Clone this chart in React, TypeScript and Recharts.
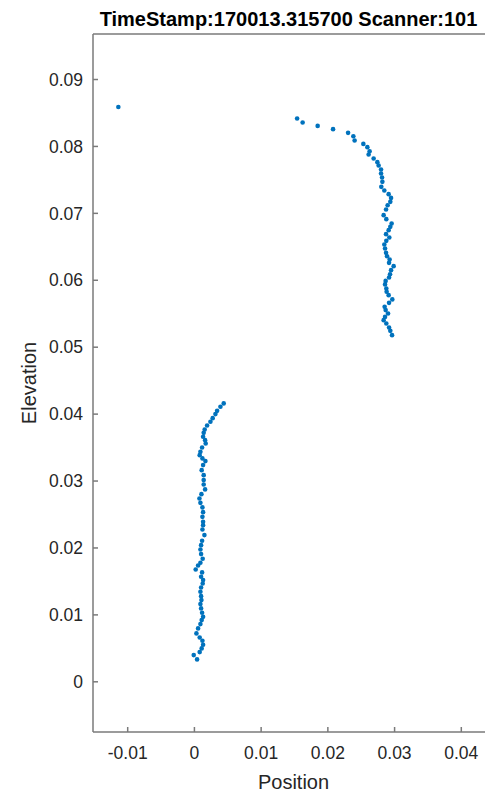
import { ScatterChart, Scatter, XAxis, YAxis } from 'recharts';

// scan points: [position, elevation]
const strayPoints: [number, number][] = [[-0.0114, 0.0859]];

const upperPoints: [number, number][] = [
  [0.01539, 0.08418], [0.01622, 0.08358], [0.01847, 0.08307], [0.02078, 0.08258],
  [0.02303, 0.08203], [0.02382, 0.08153], [0.02401, 0.08089], [0.02532, 0.08038],
  [0.02592, 0.07989], [0.02626, 0.07929], [0.02611, 0.0788], [0.02686, 0.0782],
  [0.02742, 0.07765], [0.02761, 0.07715], [0.02797, 0.07656], [0.02797, 0.07596],
  [0.02812, 0.07536], [0.02817, 0.07471], [0.02801, 0.07396], [0.02846, 0.07342],
  [0.02911, 0.07287], [0.02947, 0.07231], [0.02936, 0.07172], [0.02896, 0.07122],
  [0.02872, 0.07058], [0.02836, 0.06973], [0.02876, 0.06913], [0.02956, 0.06849],
  [0.02936, 0.06798], [0.02911, 0.06749], [0.02872, 0.06689], [0.02921, 0.0664],
  [0.02876, 0.06589], [0.02846, 0.06535], [0.02857, 0.06475], [0.02872, 0.0641],
  [0.02887, 0.0636], [0.02926, 0.06311], [0.02917, 0.0626], [0.02986, 0.06211],
  [0.02947, 0.06151], [0.02932, 0.06091], [0.02917, 0.06042], [0.02866, 0.05991],
  [0.02857, 0.05938], [0.02876, 0.05878], [0.02881, 0.05828], [0.02911, 0.05778],
  [0.02966, 0.05714], [0.02917, 0.05663], [0.02851, 0.05603], [0.02866, 0.05554],
  [0.02902, 0.05504], [0.02857, 0.05453], [0.02836, 0.05404], [0.02876, 0.05355],
  [0.02917, 0.05295], [0.02936, 0.05244], [0.02962, 0.0518],
];

const lowerPoints: [number, number][] = [
  [0.00439, 0.0416], [0.0039, 0.04109], [0.0034, 0.04049], [0.00315, 0.04],
  [0.00274, 0.0394], [0.0024, 0.03885], [0.0019, 0.03831], [0.00154, 0.03771],
  [0.00139, 0.0372], [0.0013, 0.03661], [0.0016, 0.03611], [0.00169, 0.03562],
  [0.00115, 0.03502], [0.0009, 0.03436], [0.00079, 0.03387], [0.0012, 0.03338],
  [0.00165, 0.03298], [0.0013, 0.03238], [0.00109, 0.03163], [0.00139, 0.03088],
  [0.00139, 0.03014], [0.00139, 0.02949], [0.0016, 0.02875], [0.00105, 0.02804],
  [0.00075, 0.0274], [0.0009, 0.02674], [0.0012, 0.02606], [0.0013, 0.02535],
  [0.0012, 0.02465], [0.0013, 0.02391], [0.0013, 0.02341], [0.0012, 0.02277],
  [0.0015, 0.02192], [0.00115, 0.02107], [0.001, 0.02042], [0.0009, 0.01978],
  [0.001, 0.01908], [0.00124, 0.01838], [0.0009, 0.01778], [0.00055, 0.01739],
  [0.00019, 0.01679], [0.00115, 0.01635], [0.001, 0.01569], [0.0013, 0.0152],
  [0.00124, 0.0147], [0.001, 0.0141], [0.0009, 0.01345], [0.001, 0.0128],
  [0.00105, 0.01221], [0.0009, 0.01161], [0.001, 0.01097], [0.00115, 0.01031],
  [0.0013, 0.00971], [0.00109, 0.00922], [0.0009, 0.00862], [0.00055, 0.00798],
  [0.0003, 0.00723], [0.00079, 0.00663], [0.0012, 0.00613], [0.0013, 0.00553],
  [0.00109, 0.00499], [0.00079, 0.00444], [-0.0001, 0.00399], [0.0004, 0.00335],
];

const positionTicks = [-0.01, 0, 0.01, 0.02, 0.03, 0.04];
const elevationTicks = [0, 0.01, 0.02, 0.03, 0.04, 0.05, 0.06, 0.07, 0.08, 0.09];

const title = 'TimeStamp:170013.315700 Scanner:101';

const FONT = '"Liberation Sans", Arial, sans-serif';
const AXIS = '#7a7a7a';
const TEXT = '#262626';
const DOT = '#0072BD';

const points = [...strayPoints, ...upperPoints, ...lowerPoints].map(([x, y]) => ({ x, y }));

const fmt = (v: number) => String(v);
const blank = () => '';

const Dot = (p: any) => <circle cx={p.cx} cy={p.cy} r={2.3} fill={DOT} />;

export default function App() {
  const tickStyle = { fill: TEXT, fontSize: 17.5, fontFamily: FONT };
  const line = { stroke: AXIS, strokeWidth: 1.5 };
  return (
    <div style={{ position: 'relative', width: 485, height: 786, overflow: 'hidden', fontFamily: FONT }}>
      <div
        style={{
          position: 'absolute',
          left: 280.5,
          top: 0,
          transform: 'translateX(-50%)',
          whiteSpace: 'nowrap',
          fontSize: 20,
          lineHeight: '22px',
          fontWeight: 'bold',
          color: '#000',
        }}
      >
        {title}
      </div>
      <ScatterChart width={492} height={786} margin={{ top: 25, right: 0, bottom: 0, left: 0 }}>
        <XAxis
          type="number"
          dataKey="x"
          domain={[-0.0152, 0.0449]}
          allowDataOverflow
          ticks={positionTicks}
          tickFormatter={fmt}
          height={62}
          tickSize={-5}
          tickMargin={20}
          tick={tickStyle}
          axisLine={line}
          tickLine={line}
          label={{ value: 'Position', position: 'insideBottom', offset: 5, fill: TEXT, fontSize: 20, fontFamily: FONT }}
        />
        <XAxis
          xAxisId="top"
          orientation="top"
          type="number"
          domain={[-0.0152, 0.0449]}
          allowDataOverflow
          ticks={positionTicks}
          tickFormatter={blank}
          height={1}
          tickSize={-5}
          axisLine={line}
          tickLine={line}
        />
        <YAxis
          type="number"
          dataKey="y"
          domain={[-0.0075, 0.0968]}
          allowDataOverflow
          ticks={elevationTicks}
          tickFormatter={fmt}
          width={85}
          tickSize={-5}
          tickMargin={15}
          tick={tickStyle}
          axisLine={line}
          tickLine={line}
          label={{
            value: 'Elevation',
            angle: -90,
            position: 'insideLeft',
            offset: 21,
            fill: TEXT,
            fontSize: 20,
            fontFamily: FONT,
            style: { textAnchor: 'middle' },
          }}
        />
        <YAxis
          yAxisId="right"
          orientation="right"
          type="number"
          domain={[-0.0075, 0.0968]}
          allowDataOverflow
          ticks={elevationTicks}
          tickFormatter={blank}
          width={6}
          tickSize={-5}
          axisLine={line}
          tickLine={line}
        />
        <Scatter data={points} shape={Dot} isAnimationActive={false} />
        <Scatter data={[]} xAxisId="top" yAxisId="right" isAnimationActive={false} />
      </ScatterChart>
    </div>
  );
}
